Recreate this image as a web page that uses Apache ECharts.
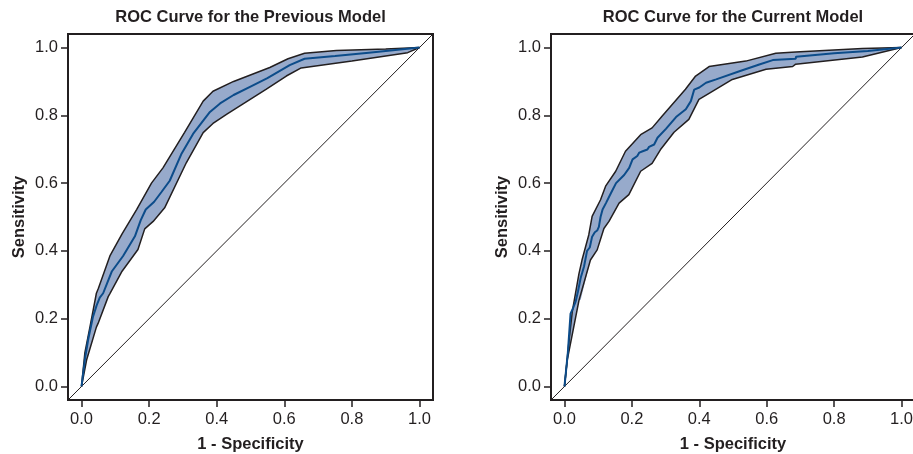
<!DOCTYPE html>
<html>
<head>
<meta charset="utf-8">
<script src="https://cdn.jsdelivr.net/npm/echarts@6/dist/echarts.min.js"></script>
<style>
  html, body { margin: 0; padding: 0; background: #fff; }
  #chart { width: 913px; height: 454px; }
</style>
</head>
<body>
<div id="chart"></div>
<script>
// ROC curves (1 - specificity, sensitivity) with confidence bands

const tickValues = [0, 0.2, 0.4, 0.6, 0.8, 1.0];
const chanceLine = [[-0.04, -0.04], [1.04, 1.04]];

// Previous model
const prevMean = [
  [0, 0], [0.01, 0.08], [0.02, 0.14], [0.034, 0.206], [0.045, 0.24], [0.054, 0.262],
  [0.064, 0.275], [0.08, 0.315], [0.09, 0.34], [0.123, 0.385], [0.158, 0.443],
  [0.175, 0.49], [0.19, 0.522], [0.215, 0.545], [0.236, 0.573], [0.261, 0.607],
  [0.295, 0.685], [0.33, 0.745], [0.38, 0.81], [0.41, 0.835], [0.45, 0.86],
  [0.5, 0.885], [0.55, 0.91], [0.616, 0.948], [0.66, 0.967], [0.75, 0.975],
  [0.85, 0.985], [1, 1]
];
const prevUpper = [
  [0, 0], [0.01, 0.1], [0.025, 0.176], [0.044, 0.275], [0.05, 0.29], [0.084, 0.385],
  [0.12, 0.45], [0.163, 0.522], [0.207, 0.6], [0.241, 0.645], [0.305, 0.75],
  [0.36, 0.842], [0.389, 0.871], [0.45, 0.9], [0.557, 0.941], [0.611, 0.967],
  [0.66, 0.983], [0.754, 0.991], [0.9, 0.996], [1, 1]
];
const prevLower = [
  [0, 0], [0.015, 0.078], [0.044, 0.175], [0.049, 0.186], [0.079, 0.265], [0.084, 0.274],
  [0.12, 0.34], [0.167, 0.404], [0.187, 0.465], [0.212, 0.487], [0.246, 0.527],
  [0.31, 0.66], [0.36, 0.749], [0.389, 0.776], [0.429, 0.803], [0.547, 0.877],
  [0.606, 0.916], [0.65, 0.94], [0.8, 0.96], [0.965, 0.985], [1, 1]
];

// Current model
const currMean = [
  [0, 0], [0.01, 0.1], [0.018, 0.215], [0.025, 0.23], [0.033, 0.25], [0.04, 0.28],
  [0.048, 0.32], [0.058, 0.354], [0.067, 0.4], [0.075, 0.41], [0.082, 0.442],
  [0.09, 0.455], [0.097, 0.46], [0.102, 0.471], [0.107, 0.5], [0.113, 0.522],
  [0.123, 0.541], [0.138, 0.571], [0.153, 0.6], [0.177, 0.624], [0.192, 0.645],
  [0.202, 0.67], [0.216, 0.68], [0.222, 0.69], [0.232, 0.694], [0.246, 0.699],
  [0.251, 0.707], [0.266, 0.714], [0.276, 0.734], [0.301, 0.76], [0.331, 0.795],
  [0.36, 0.818], [0.375, 0.842], [0.385, 0.876], [0.4, 0.882], [0.42, 0.896],
  [0.45, 0.906], [0.519, 0.93], [0.578, 0.95], [0.618, 0.963], [0.686, 0.967],
  [0.687, 0.973], [0.8, 0.983], [0.9, 0.99], [1, 1]
];
const currUpper = [
  [0, 0], [0.012, 0.12], [0.023, 0.22], [0.043, 0.333], [0.052, 0.373], [0.072, 0.447],
  [0.082, 0.502], [0.107, 0.551], [0.122, 0.591], [0.152, 0.635], [0.181, 0.694],
  [0.226, 0.743], [0.26, 0.763], [0.29, 0.798], [0.359, 0.877], [0.389, 0.916],
  [0.429, 0.944], [0.538, 0.96], [0.627, 0.983], [0.686, 0.987], [0.884, 0.997], [1, 1]
];
const currLower = [
  [0, 0], [0.008, 0.077], [0.043, 0.254], [0.048, 0.255], [0.077, 0.373], [0.097, 0.403],
  [0.117, 0.466], [0.132, 0.487], [0.162, 0.541], [0.191, 0.566], [0.226, 0.635],
  [0.26, 0.658], [0.285, 0.699], [0.325, 0.75], [0.369, 0.788], [0.399, 0.847],
  [0.429, 0.865], [0.498, 0.906], [0.598, 0.936], [0.677, 0.944], [0.686, 0.951],
  [0.884, 0.972], [1, 1]
];

const titles = ['ROC Curve for the Previous Model', 'ROC Curve for the Current Model'];

const INK = '#231f20';
const BAND = '#97aacb';
const MEAN = '#0c4c8a';
const FONT = 'Liberation Sans, Arial, Helvetica, sans-serif';

function axisCommon(idx, name, isX) {
  return {
    type: 'value',
    gridIndex: idx,
    min: -0.04,
    max: 1.04,
    name: name,
    nameLocation: 'middle',
    nameGap: isX ? 36 : 40,
    nameTextStyle: { fontFamily: FONT, fontSize: 16.5, fontWeight: 'bold', color: INK },
    axisLine: { show: false, onZero: false },
    splitLine: { show: false },
    axisTick: {
      show: true, inside: false, length: 7,
      customValues: tickValues,
      lineStyle: { color: INK, width: 1.5 }
    },
    axisLabel: {
      show: true, margin: isX ? 11 : 10,
      customValues: tickValues,
      formatter: v => v.toFixed(1),
      fontFamily: FONT, fontSize: 16.5, color: INK
    }
  };
}

function bandSeries(idx, upper, lower) {
  return {
    type: 'custom',
    xAxisIndex: idx, yAxisIndex: idx,
    clip: true,
    silent: true,
    data: [[0, 0]],
    renderItem: (params, api) => {
      const pts = upper.map(p => api.coord(p))
        .concat(lower.slice().reverse().map(p => api.coord(p)));
      return { type: 'polygon', shape: { points: pts }, style: { fill: BAND } };
    },
    z: 1
  };
}

function lineSeries(idx, data, color, width, z) {
  return {
    type: 'line',
    xAxisIndex: idx, yAxisIndex: idx,
    data: data,
    symbol: 'none',
    showSymbol: false,
    smooth: false,
    clip: true,
    lineStyle: { color: color, width: width },
    silent: true,
    z: z
  };
}

const grids = [
  { left: 68, top: 34, width: 365, height: 366 },
  { left: 551, top: 34, width: 364, height: 366 }
];

const option = {
  animation: false,
  backgroundColor: '#ffffff',
  title: titles.map((t, i) => ({
    text: t,
    left: grids[i].left + grids[i].width / 2,
    textAlign: 'center',
    top: 9,
    padding: 0,
    textStyle: { fontFamily: FONT, fontSize: 16.5, fontWeight: 'bold', color: INK }
  })),
  grid: grids.map(g => Object.assign({
    show: true, borderColor: INK, borderWidth: 2, backgroundColor: 'transparent',
    containLabel: false, outerBoundsMode: 'none'
  }, g)),
  xAxis: [axisCommon(0, '1 - Specificity', true), axisCommon(1, '1 - Specificity', true)],
  yAxis: [axisCommon(0, 'Sensitivity', false), axisCommon(1, 'Sensitivity', false)],
  series: [
    bandSeries(0, prevUpper, prevLower),
    lineSeries(0, prevUpper, INK, 1.5, 3),
    lineSeries(0, prevLower, INK, 1.5, 3),
    lineSeries(0, prevMean, MEAN, 2, 4),
    lineSeries(0, chanceLine, INK, 1, 2),
    bandSeries(1, currUpper, currLower),
    lineSeries(1, currUpper, INK, 1.5, 3),
    lineSeries(1, currLower, INK, 1.5, 3),
    lineSeries(1, currMean, MEAN, 2, 4),
    lineSeries(1, chanceLine, INK, 1, 2)
  ]
};

const chart = echarts.init(document.getElementById('chart'), null, { renderer: 'canvas' });
chart.setOption(option);
</script>
</body>
</html>
